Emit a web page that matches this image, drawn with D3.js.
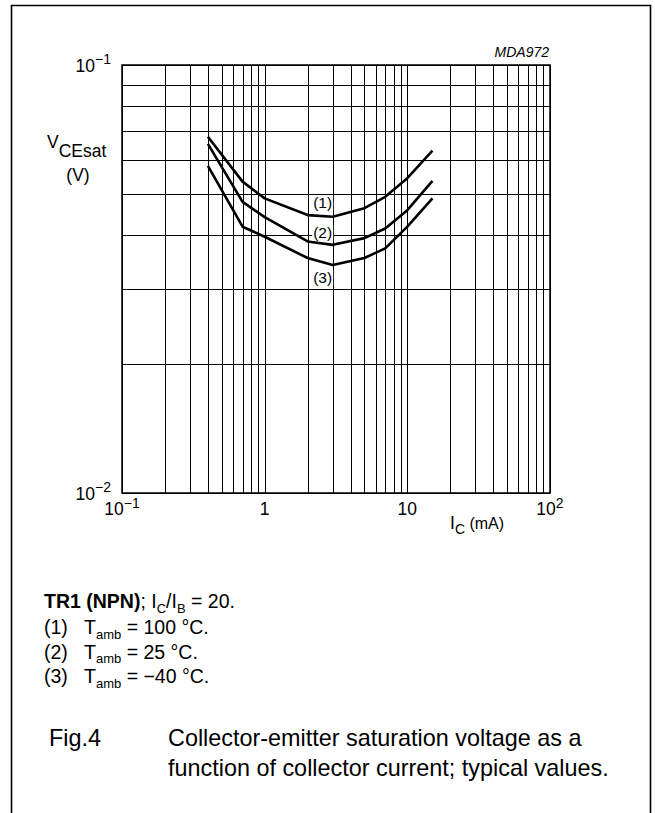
<!DOCTYPE html>
<html>
<head>
<meta charset="utf-8">
<script src="https://cdn.jsdelivr.net/npm/d3@7"></script>
<style>
  html, body { margin: 0; padding: 0; background: #fff; }
  svg { display: block; font-family: "Liberation Sans", Arial, Helvetica, sans-serif; }
</style>
</head>
<body>
<svg id="chart" width="655" height="813"></svg>
<script>
// Collector current (mA) at which each curve was sampled
const icValues = [0.4, 0.7, 1, 2, 3, 5, 7, 10, 15];
// VCEsat (V) per ambient temperature
const vce100 = [0.068, 0.0534, 0.0488, 0.0446, 0.0442, 0.0463, 0.0492, 0.0544, 0.0631];
const vce25  = [0.0654, 0.0479, 0.0441, 0.0387, 0.0380, 0.0394, 0.0415, 0.0458, 0.0536];
const vceM40 = [0.0581, 0.0419, 0.0397, 0.0354, 0.0341, 0.0354, 0.0373, 0.0419, 0.0488];
const curveNames = ["(1)", "(2)", "(3)"];

// Decade tick labels: base and exponent
const xTickValues = [0.1, 1, 10, 100];
const xTickBase = ["10", "1", "10", "10"];
const xTickExp = ["\u22121", "", "", "2"];
const yTickValues = [0.1, 0.01];
const yTickBase = ["10", "10"];
const yTickExp = ["\u22121", "\u22122"];

const svg = d3.select("#chart");

// outer frame (open at the bottom)
svg.append("path")
  .attr("d", "M11.5,813 L11.5,5.5 L650.5,5.5 L650.5,813")
  .attr("fill", "none").attr("stroke", "#000").attr("stroke-width", 1.6);

const x = d3.scaleLog().domain([0.1, 100]).range([122, 550]);
const y = d3.scaleLog().domain([0.01, 0.1]).range([493, 65]);

const grid = svg.append("g").attr("stroke", "#000").attr("stroke-width", 1);
grid.selectAll("line.v").data(x.ticks()).join("line")
  .attr("x1", d => Math.round(x(d)) + 0.5).attr("x2", d => Math.round(x(d)) + 0.5)
  .attr("y1", y.range()[1]).attr("y2", y.range()[0]);
grid.selectAll("line.h").data(y.ticks()).join("line")
  .attr("y1", d => Math.round(y(d)) + 0.5).attr("y2", d => Math.round(y(d)) + 0.5)
  .attr("x1", x.range()[0]).attr("x2", x.range()[1]);
svg.append("rect")
  .attr("x", x.range()[0]).attr("y", y.range()[1])
  .attr("width", x.range()[1] - x.range()[0]).attr("height", y.range()[0] - y.range()[1])
  .attr("fill", "none").attr("stroke", "#000").attr("stroke-width", 1.5);

// curves
const line = d3.line().x(d => x(d[0])).y(d => y(d[1]));
[vce100, vce25, vceM40].forEach(series => {
  svg.append("path")
    .datum(icValues.map((ic, i) => [ic, series[i]]))
    .attr("d", line)
    .attr("fill", "none").attr("stroke", "#000")
    .attr("stroke-width", 2.6).attr("stroke-linejoin", "round");
});

// curve labels with white backing
const labelBaselines = [208, 238, 283];
curveNames.forEach((name, i) => {
  const cx = x(2.55);
  const by = labelBaselines[i];
  svg.append("rect").attr("x", cx - 10.5).attr("y", by - 13).attr("width", 21).attr("height", 16).attr("fill", "#fff");
  svg.append("text").attr("x", cx).attr("y", by).attr("text-anchor", "middle")
    .attr("font-size", 15.5).text(name);
});

// decade tick labels
const fsT = 17.5;
function supLabel(g, base, exp, fs) {
  g.append("tspan").text(base);
  if (exp) g.append("tspan").attr("dy", -7.5).attr("font-size", fs * 0.8).text(exp);
}
xTickValues.forEach((v, i) => {
  const t = svg.append("text").attr("x", x(v)).attr("y", 515)
    .attr("text-anchor", "middle").attr("font-size", fsT);
  supLabel(t, xTickBase[i], xTickExp[i], fsT);
});
yTickValues.forEach((v, i) => {
  const t = svg.append("text").attr("x", 111).attr("y", y(v) + 6.5)
    .attr("text-anchor", "end").attr("font-size", fsT);
  supLabel(t, yTickBase[i], yTickExp[i], fsT);
});

// axis titles
const yt = svg.append("text").attr("x", 47).attr("y", 148).attr("font-size", fsT);
yt.append("tspan").text("V");
yt.append("tspan").attr("dy", 9).text("CEsat");
svg.append("text").attr("x", 78).attr("y", 181).attr("text-anchor", "middle").attr("font-size", fsT).text("(V)");

const xt = svg.append("text").attr("x", 450).attr("y", 529).attr("font-size", fsT);
xt.append("tspan").text("I");
xt.append("tspan").attr("dy", 5).attr("font-size", 14).text("C");
xt.append("tspan").attr("dy", -5).attr("font-size", 16).text(" (mA)");

svg.append("text").attr("x", 549).attr("y", 57).attr("text-anchor", "end")
  .attr("font-size", 14).attr("font-style", "italic").text("MDA972");

// conditions
const fsL = 19.5;
const fsSub = 13;
const cond = svg.append("text").attr("x", 44).attr("y", 608).attr("font-size", fsL);
cond.append("tspan").attr("font-weight", "bold").text("TR1 (NPN)");
cond.append("tspan").text("; I");
cond.append("tspan").attr("dy", 4.5).attr("font-size", fsSub).text("C");
cond.append("tspan").attr("dy", -4.5).text("/I");
cond.append("tspan").attr("dy", 4.5).attr("font-size", fsSub).text("B");
cond.append("tspan").attr("dy", -4.5).text(" = 20.");

const temps = ["100 \u00B0C.", "25 \u00B0C.", "\u221240 \u00B0C."];
temps.forEach((tv, i) => {
  const by = 634 + i * 24.5;
  svg.append("text").attr("x", 44).attr("y", by).attr("font-size", fsL).text(curveNames[i]);
  const t = svg.append("text").attr("x", 84).attr("y", by).attr("font-size", fsL);
  t.append("tspan").text("T");
  t.append("tspan").attr("dy", 4.5).attr("font-size", fsSub).text("amb");
  t.append("tspan").attr("dy", -4.5).text(" = " + tv);
});

// caption
const fsC = 23.4;
svg.append("text").attr("x", 49).attr("y", 746).attr("font-size", fsC).text("Fig.4");
svg.append("text").attr("x", 168).attr("y", 746).attr("font-size", fsC).text("Collector-emitter saturation voltage as a");
svg.append("text").attr("x", 168).attr("y", 776).attr("font-size", fsC).text("function of collector current; typical values.");
</script>
</body>
</html>
